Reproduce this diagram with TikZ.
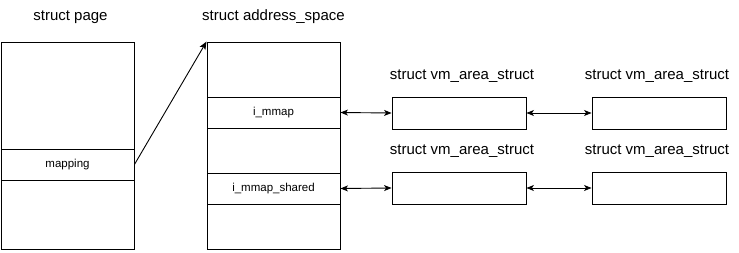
\documentclass[tikz,border=0pt]{standalone}
\usepackage{fontspec}
\setmainfont{Liberation Sans}
\usetikzlibrary{arrows.meta}
\begin{document}
\begin{tikzpicture}[
  x=1pt, y=-1pt,
  title/.style={font=\fontsize{15}{18}\selectfont, inner sep=0pt},
  frame/.style={draw, line width=0.9pt, minimum width=133pt, minimum height=207pt, inner sep=0pt},
  field/.style={draw, line width=0.9pt, minimum width=133pt, minimum height=31pt, inner sep=0pt, font=\fontsize{11.5}{14}\selectfont},
  vma/.style={draw, line width=0.9pt, minimum width=134pt, minimum height=32pt, inner sep=0pt},
  link/.style={line width=0.9pt, {Stealth[length=7.5pt,width=6pt,inset=2pt]}-{Stealth[length=7.5pt,width=6pt,inset=2pt]}},
  ptr/.style={line width=0.9pt, -{Stealth[length=8pt,width=6.5pt,inset=2pt]}}
]
\useasboundingbox (0,0) rectangle (739,252);
% struct page
\node[title] (pagetitle) at (70.5,17) {struct page};
\node[frame] (page) at (67.5,145.5) {};
\node[field] (mapping) at (67.5,164.5) {mapping};
% struct address_space
\node[title] (astitle) at (273.5,17) {struct address\_space};
\node[frame] (as) at (273.5,145.5) {};
\node[field] (immap) at (273.5,112.5) {i\_mmap};
\node[field] (immapshared) at (273.5,188.5) {i\_mmap\_shared};
% vm_area_struct lists
\node[title] (vmatitleA) at (462,76) {struct vm\_area\_struct};
\node[title] (vmatitleB) at (657,76) {struct vm\_area\_struct};
\node[title] (vmatitleC) at (462,151) {struct vm\_area\_struct};
\node[title] (vmatitleD) at (657,151) {struct vm\_area\_struct};
\node[vma] (vmaA) at (459,113) {};
\node[vma] (vmaB) at (659,113) {};
\node[vma] (vmaC) at (459,188) {};
\node[vma] (vmaD) at (659,188) {};
% connectors
\draw[ptr] (mapping.east) -- (as.north west);
\draw[link] (immap.east) -- (vmaA.west);
\draw[link] (vmaA.east) -- (vmaB.west);
\draw[link] (immapshared.east) -- (vmaC.west);
\draw[link] (vmaC.east) -- (vmaD.west);
\end{tikzpicture}
\end{document}
